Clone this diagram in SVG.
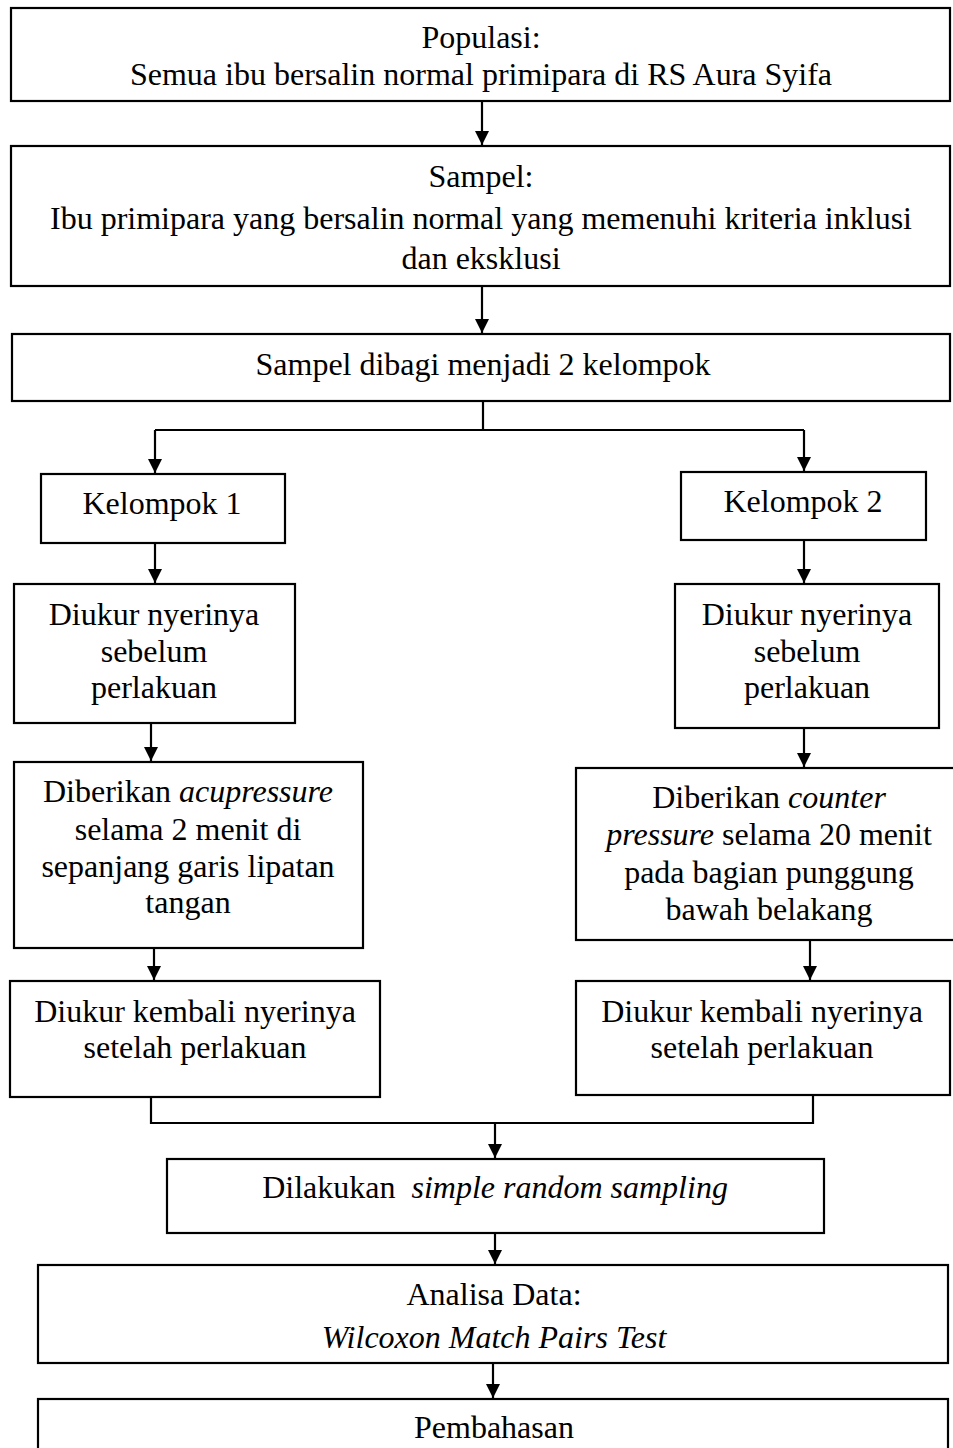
<svg xmlns="http://www.w3.org/2000/svg" width="953" height="1448" viewBox="0 0 953 1448">
<style>
.box{fill:#fff;stroke:#000;stroke-width:2.2}
.ln{fill:none;stroke:#000;stroke-width:2.2}
text{font-family:"Liberation Serif","Times New Roman",serif;font-size:32px;fill:#000;text-anchor:middle}
.i{font-style:italic}
</style>
<defs>
<marker id="ah" markerWidth="14" markerHeight="14" refX="14" refY="7" orient="auto" markerUnits="userSpaceOnUse">
<path d="M0,0 L14,7 L0,14 Z" fill="#000"/>
</marker>
</defs>
<g id="connectors">
<line class="ln" x1="482" y1="101" x2="482" y2="145" marker-end="url(#ah)"/>
<line class="ln" x1="482" y1="286" x2="482" y2="333" marker-end="url(#ah)"/>
<polyline class="ln" points="483,401 483,430"/>
<polyline class="ln" points="155,430 804,430"/>
<line class="ln" x1="155" y1="430" x2="155" y2="473" marker-end="url(#ah)"/>
<line class="ln" x1="804" y1="430" x2="804" y2="471" marker-end="url(#ah)"/>
<line class="ln" x1="155" y1="543" x2="155" y2="583" marker-end="url(#ah)"/>
<line class="ln" x1="804" y1="540" x2="804" y2="583" marker-end="url(#ah)"/>
<line class="ln" x1="151" y1="723" x2="151" y2="761" marker-end="url(#ah)"/>
<line class="ln" x1="804" y1="728" x2="804" y2="767" marker-end="url(#ah)"/>
<line class="ln" x1="154" y1="948" x2="154" y2="980" marker-end="url(#ah)"/>
<line class="ln" x1="810" y1="940" x2="810" y2="980" marker-end="url(#ah)"/>
<polyline class="ln" points="151,1097 151,1123 813,1123 813,1095"/>
<line class="ln" x1="495" y1="1123" x2="495" y2="1158" marker-end="url(#ah)"/>
<line class="ln" x1="495" y1="1233" x2="495" y2="1264" marker-end="url(#ah)"/>
<line class="ln" x1="493" y1="1363" x2="493" y2="1398" marker-end="url(#ah)"/>
</g>
<g id="populasi">
<rect class="box" x="11" y="8" width="939" height="93"/>
<text x="481" y="48">Populasi:</text>
<text x="481" y="85">Semua ibu bersalin normal primipara di RS Aura Syifa</text>
</g>
<g id="sampel">
<rect class="box" x="11" y="146" width="939" height="140"/>
<text x="481" y="187">Sampel:</text>
<text x="481" y="229">Ibu primipara yang bersalin normal yang memenuhi kriteria inklusi</text>
<text x="481" y="269">dan eksklusi</text>
</g>
<g id="dibagi">
<rect class="box" x="12" y="334" width="938" height="67"/>
<text x="483" y="375">Sampel dibagi menjadi 2 kelompok</text>
</g>
<g id="kelompok1">
<rect class="box" x="41" y="474" width="244" height="69"/>
<text x="162" y="514">Kelompok 1</text>
</g>
<g id="kelompok2">
<rect class="box" x="681" y="472" width="245" height="68"/>
<text x="803" y="512">Kelompok 2</text>
</g>
<g id="ukur1">
<rect class="box" x="14" y="584" width="281" height="139"/>
<text x="154" y="625">Diukur nyerinya</text>
<text x="154" y="662">sebelum</text>
<text x="154" y="698">perlakuan</text>
</g>
<g id="ukur2">
<rect class="box" x="675" y="584" width="264" height="144"/>
<text x="807" y="625">Diukur nyerinya</text>
<text x="807" y="662">sebelum</text>
<text x="807" y="698">perlakuan</text>
</g>
<g id="acupressure">
<rect class="box" x="14" y="762" width="349" height="186"/>
<text x="188" y="802">Diberikan <tspan class="i">acupressure</tspan></text>
<text x="188" y="840">selama 2 menit di</text>
<text x="188" y="877">sepanjang garis lipatan</text>
<text x="188" y="913">tangan</text>
</g>
<g id="counter">
<rect class="box" x="576" y="768" width="390" height="172"/>
<text x="769" y="808">Diberikan <tspan class="i">counter</tspan></text>
<text x="769" y="845"><tspan class="i">pressure</tspan> selama 20 menit</text>
<text x="769" y="883">pada bagian punggung</text>
<text x="769" y="920">bawah belakang</text>
</g>
<g id="kembali1">
<rect class="box" x="10" y="981" width="370" height="116"/>
<text x="195" y="1022">Diukur kembali nyerinya</text>
<text x="195" y="1058">setelah perlakuan</text>
</g>
<g id="kembali2">
<rect class="box" x="576" y="981" width="374" height="114"/>
<text x="762" y="1022">Diukur kembali nyerinya</text>
<text x="762" y="1058">setelah perlakuan</text>
</g>
<g id="sampling">
<rect class="box" x="167" y="1159" width="657" height="74"/>
<text x="495" y="1198" xml:space="preserve">Dilakukan  <tspan class="i">simple random sampling</tspan></text>
</g>
<g id="analisa">
<rect class="box" x="38" y="1265" width="910" height="98"/>
<text x="494" y="1305">Analisa Data:</text>
<text x="494" y="1348" class="i">Wilcoxon Match Pairs Test</text>
</g>
<g id="pembahasan">
<rect class="box" x="38" y="1399" width="910" height="70"/>
<text x="494" y="1438">Pembahasan</text>
</g>
</svg>
